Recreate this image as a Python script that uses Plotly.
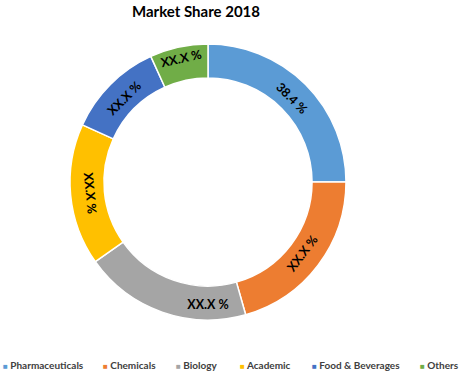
import plotly.graph_objects as go

# ---- data ----
categories = ["Pharmaceuticals", "Chemicals", "Biology", "Academic", "Food & Beverages", "Others"]
shares = [25.0, 20.6, 19.6, 16.6, 11.4, 6.8]
slice_labels = ["38.4 %", "XX.X %", "XX.X %", "XX.X %", "XX.X %", "XX.X %"]
colors = ["#5B9BD5", "#ED7D31", "#A5A5A5", "#FFC000", "#4472C4", "#70AD47"]

# ---- layout constants ----
W, H = 460, 374
CX, CY, R = 208, 182, 138          # donut centre / outer radius (px)
legend_px = [3, 103, 176, 240, 312, 420]   # left edge of each legend entry (px)
FONT = "Lato"

fig = go.Figure()
fig.add_trace(go.Pie(
    labels=categories, values=shares, text=slice_labels,
    textinfo="text", textposition="inside", insidetextorientation="tangential",
    hole=0.754, sort=False, direction="clockwise", rotation=0,
    marker=dict(colors=colors, line=dict(color="white", width=1.5)),
    textfont=dict(family=FONT, size=12.5, color="black", weight="bold"),
    showlegend=False,
    domain=dict(x=[(CX - R) / W, (CX + R) / W],
                y=[(H - CY - R) / H, (H - CY + R) / H]),
))

legends = {}
for i, (cat, col) in enumerate(zip(categories, colors)):
    lg = "legend" if i == 0 else f"legend{i + 1}"
    fig.add_trace(go.Scatter(
        x=[None], y=[None], mode="markers",
        marker=dict(size=1, color="rgba(0,0,0,0)", opacity=0,
                    line=dict(width=0, color="rgba(0,0,0,0)")),
        name=f"<span style='color:{col};font-size:8px'>■</span> {cat}",
        legend=lg, showlegend=True, hoverinfo="skip",
    ))
    legends[lg] = dict(
        x=(legend_px[i] - 40) / W, xref="paper", xanchor="left",
        y=9 / H, yref="paper", yanchor="middle",
        orientation="h", bgcolor="rgba(0,0,0,0)", borderwidth=0,
        font=dict(family=FONT, size=10, color="#404040", weight="bold"),
    )

fig.update_layout(
    width=W, height=H,
    margin=dict(l=0, r=0, t=0, b=0, autoexpand=False),
    paper_bgcolor="white", plot_bgcolor="white",
    title=dict(text="<b>Market Share 2018</b>", x=196 / W, xanchor="center",
               y=1 - 12 / H, yanchor="middle",
               font=dict(family=FONT, size=15, color="black")),
    xaxis=dict(visible=False), yaxis=dict(visible=False),
    **legends,
)

fig.write_html("out.html", config={"displayModeBar": False},
               post_script="document.body.style.margin='0px';")
